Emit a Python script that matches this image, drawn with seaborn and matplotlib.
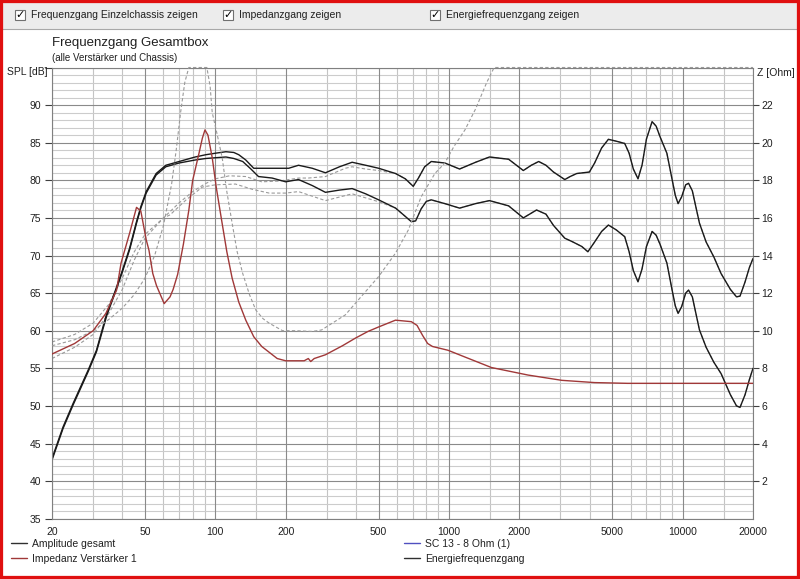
import numpy as np
import matplotlib
matplotlib.use("Agg")
import matplotlib.pyplot as plt
import matplotlib.ticker as mticker
from matplotlib.patches import Rectangle
from matplotlib.lines import Line2D
import seaborn as sns

# --- data ------------------------------------------------------------------
# total response (upper black curve), SPL in dB
amp_f = [20, 22.3, 24.6, 28.6, 31, 34.3, 37, 40, 43, 46, 48, 50.6, 55.8, 61.4, 70, 82, 91,
         100, 111, 120, 126, 135, 146, 175, 206, 227, 260, 296, 340, 385, 440, 500, 591,
         650, 703, 740, 787, 840, 960, 1110, 1300, 1490, 1800, 2080, 2250, 2420, 2600, 2800,
         3130, 3300, 3520, 3990, 4200, 4500, 4810, 5200, 5650, 5900, 6150, 6440, 6700, 7000,
         7400, 7700, 8000, 8560, 9000, 9300, 9560, 9900, 10300, 10600, 11000, 11800, 12600,
         13600, 14600, 16000, 17000, 17600, 18500, 19300, 20000]
amp_db = [43.0, 47.2, 50.3, 54.8, 57.4, 62.3, 65.0, 68.0, 71.0, 74.5, 76.5, 78.5, 80.9, 82.0,
          82.5, 83.1, 83.4, 83.6, 83.8, 83.7, 83.4, 82.7, 81.6, 81.6, 81.6, 82.0, 81.6, 81.0,
          81.8, 82.4, 82.0, 81.6, 80.9, 80.2, 79.2, 80.3, 81.8, 82.5, 82.3, 81.5, 82.4, 83.1,
          82.8, 81.3, 82.0, 82.5, 82.0, 81.1, 80.1, 80.5, 80.9, 81.1, 82.3, 84.3, 85.45, 85.2,
          84.9, 83.6, 81.5, 80.2, 82.0, 85.5, 87.8, 87.2, 85.8, 83.6, 80.2, 78.0, 76.9, 77.8,
          79.4, 79.6, 78.6, 74.3, 71.8, 69.8, 67.6, 65.5, 64.5, 64.6, 66.5, 68.4, 69.6]

# energy response (lower black curve), SPL in dB
energy_f = [20, 22.3, 24.6, 28.6, 31, 34.3, 37, 40, 43, 46, 48, 50.6, 55.8, 61.4, 70, 82, 91,
            100, 111, 120, 131, 142, 153, 175, 200, 227, 260, 296, 340, 385, 440, 500, 591,
            650, 690, 720, 760, 800, 840, 960, 1110, 1300, 1490, 1800, 2080, 2370, 2600, 2800,
            3130, 3390, 3700, 3930, 4200, 4500, 4810, 5200, 5650, 5900, 6150, 6440, 6700,
            7000, 7400, 7700, 8000, 8560, 9000, 9300, 9560, 9900, 10300, 10600, 11000, 11800,
            12600, 13600, 14600, 16000, 17000, 17600, 18500, 19300, 20000]
energy_db = [42.8, 47.0, 50.1, 54.6, 57.2, 62.0, 64.8, 67.8, 70.8, 74.3, 76.3, 78.3, 80.7,
             81.8, 82.3, 82.7, 82.9, 83.0, 83.1, 82.9, 82.5, 81.5, 80.5, 80.3, 79.8, 80.1,
             79.3, 78.4, 78.7, 78.9, 78.2, 77.4, 76.3, 75.2, 74.5, 74.6, 76.2, 77.2, 77.4,
             76.9, 76.3, 76.9, 77.3, 76.6, 75.0, 76.05, 75.5, 74.0, 72.3, 71.8, 71.2, 70.5,
             71.8, 73.2, 74.05, 73.4, 72.5, 70.5, 68.0, 66.5, 68.2, 71.2, 73.2, 72.7, 71.5,
             69.0, 65.5, 63.3, 62.3, 63.2, 65.0, 65.4, 64.5, 60.1, 57.8, 55.8, 54.3, 51.5,
             50.0, 49.8, 51.5, 53.5, 55.0]

# single chassis responses (grey dashed), below 600 Hz they differ from the totals
chassis_up_f = [20, 25, 30, 35, 40, 45, 50, 60, 70, 80, 90, 100, 115, 135, 158, 188, 227,
                250, 296, 360, 385, 440, 500, 591]
chassis_up_db = [58.5, 59.5, 61.0, 63.5, 67.0, 70.5, 72.8, 75.0, 77.0, 78.5, 79.5, 80.2,
                 80.6, 80.5, 79.8, 79.9, 80.3, 80.3, 80.5, 81.6, 81.8, 81.5, 81.3, 80.9]
chassis_lo_f = [20, 25, 30, 35, 40, 45, 50, 60, 64, 75, 88, 100, 122, 144, 170, 200, 227,
                296, 385, 500, 591]
chassis_lo_db = [56.3, 57.8, 59.5, 62.3, 65.5, 69.4, 72.3, 75.0, 75.4, 77.4, 79.1, 79.4,
                 79.5, 78.8, 78.3, 78.3, 78.5, 77.3, 78.2, 77.15, 76.3]

# amplifier impedance (red), Ohm
imp_amp_f = [20, 25, 30, 34, 37.8, 39.5, 43, 46, 48, 50.6, 52, 54, 56, 60.4, 64, 66, 69, 73,
             77, 80, 85, 88, 90.3, 93, 97, 101, 106, 112, 118, 126, 135, 146, 158, 184, 200,
             240, 250, 256, 265, 296, 350, 397, 450, 500, 590, 690, 730, 770, 810, 850, 990,
             1170, 1520, 2180, 3040, 4200, 5800, 10000, 20000]
imp_amp_ohm = [8.76, 9.32, 10.0, 10.92, 12.16, 13.6, 15.2, 16.56, 16.36, 14.84, 14.28, 13.04,
               12.4, 11.44, 11.8, 12.2, 13.0, 14.6, 16.4, 18.0, 19.4, 20.24, 20.68, 20.4, 19.2,
               17.6, 16.0, 14.2, 12.8, 11.52, 10.56, 9.68, 9.16, 8.52, 8.4, 8.4, 8.52, 8.36,
               8.52, 8.72, 9.2, 9.6, 9.96, 10.2, 10.56, 10.48, 10.28, 9.76, 9.32, 9.16, 8.96,
               8.6, 8.04, 7.64, 7.36, 7.24, 7.2, 7.2, 7.2]

# chassis impedance (grey dashed), Ohm, held at the top edge where it leaves the chart
imp_ch_f = [20, 25, 30, 35, 40, 45, 50, 55, 60, 65, 68, 71, 74, 77, 92, 95, 97, 102, 107,
            112, 118, 124, 131, 140, 149, 160, 170, 194, 220, 260, 285, 360, 420, 500, 590,
            670, 760, 870, 960, 1050, 1170, 1300, 1450, 1560, 20000]
imp_ch_ohm = [9.2, 9.52, 10.0, 10.6, 11.2, 11.92, 12.8, 14.0, 15.6, 17.8, 19.6, 21.6, 23.2,
              24.0, 24.0, 23.0, 21.6, 20.4, 19.2, 17.4, 15.72, 14.2, 13.04, 11.92, 11.1,
              10.64, 10.4, 10.0, 10.0, 9.96, 10.04, 10.84, 11.8, 12.88, 14.12, 15.36, 17.12,
              18.36, 18.92, 19.8, 20.68, 21.8, 23.2, 24.0, 24.0]

x_major = [20, 50, 100, 200, 500, 1000, 2000, 5000, 10000, 20000]
x_minor = [30, 40, 60, 70, 80, 90, 150, 300, 400, 600, 700, 800, 900, 1500, 3000, 4000,
           6000, 7000, 8000, 9000, 15000]
spl_ticks = [35, 40, 45, 50, 55, 60, 65, 70, 75, 80, 85, 90, 95]
ohm_ticks = [2, 4, 6, 8, 10, 12, 14, 16, 18, 20, 22]

# --- style ------------------------------------------------------------------
sns.set_theme(style="white")
plt.rcParams['font.family'] = ['Liberation Sans Narrow', 'Liberation Sans', 'DejaVu Sans']
plt.rcParams['font.size'] = 7.5
TXT = "#202020"
FS = 7.5

W, H = 800, 579


def px(x, y):
    return x / W, 1 - y / H


fig = plt.figure(figsize=(8, 5.79), dpi=100)
fig.patch.set_facecolor("white")

# checkbox strip
fig.patches.append(Rectangle((0, 1 - 29 / H), 1, 29 / H, transform=fig.transFigure,
                             facecolor="#ececec", edgecolor="none", zorder=0))
fig.add_artist(Line2D([0, 1], [1 - 29 / H] * 2, transform=fig.transFigure,
                      color="#a8a8a8", lw=0.8))
for bx, label in [(15, "Frequenzgang Einzelchassis zeigen"), (223, "Impedanzgang zeigen"),
                  (430, "Energiefrequenzgang zeigen")]:
    x0, y0 = px(bx, 20)
    fig.patches.append(Rectangle((x0, y0), 10 / W, 10 / H, transform=fig.transFigure,
                                 facecolor="white", edgecolor="#707070", lw=0.8))
    fig.text(*px(bx + 5, 15), "\u2713", ha="center", va="center", fontsize=8,
             fontweight="bold", color="black", family="DejaVu Sans")
    fig.text(*px(bx + 16, 15), label, ha="left", va="center", fontsize=FS, color=TXT)

# red window border
fig.patches.append(Rectangle((0, 0), 1, 1, transform=fig.transFigure, fill=False,
                             edgecolor="#e01010", lw=4.5, zorder=10))

# titles
fig.text(*px(52, 43), "Frequenzgang Gesamtbox", ha="left", va="center", fontsize=9.5, color=TXT)
fig.text(*px(52, 58), "(alle Verst\u00e4rker und Chassis)", ha="left", va="center",
         fontsize=7, color=TXT)
fig.text(*px(48, 72), "SPL [dB]", ha="right", va="center", fontsize=FS, color=TXT)
fig.text(*px(757, 73), "Z [Ohm]", ha="left", va="center", fontsize=FS, color=TXT)

# --- axes -------------------------------------------------------------------
ax = fig.add_axes([52 / W, 1 - 518.7 / H, (753 - 52) / W, (518.7 - 67.5) / H])
ax.set_facecolor("white")
ax.set_xscale("log")
ax.set_xlim(20, 20000)
ax.set_ylim(35, 95)

# grid
for f in x_minor:
    ax.axvline(f, color="#c4c4c4", lw=0.8, zorder=0)
for f in x_major:
    ax.axvline(f, color="#8a8a8a", lw=0.8, zorder=0.1)
for v in range(35, 96):
    if v % 5:
        ax.axhline(v, color="#cccccc", lw=0.8, zorder=0)
    else:
        ax.axhline(v, color="#8a8a8a", lw=0.8, zorder=0.1)

ax.xaxis.set_major_locator(mticker.FixedLocator(x_major))
ax.xaxis.set_minor_locator(mticker.NullLocator())
ax.xaxis.set_major_formatter(mticker.FixedFormatter([str(v) for v in x_major]))
ax.yaxis.set_major_locator(mticker.FixedLocator(spl_ticks))
ax.yaxis.set_major_formatter(mticker.FixedFormatter([str(v) for v in spl_ticks[:-1]] + [""]))
ax.tick_params(axis="x", length=0, pad=6, labelsize=FS, labelcolor=TXT)
ax.tick_params(axis="y", left=True, length=5, width=0.8, color="#404040", pad=3,
               labelsize=FS, labelcolor=TXT)
for s in ax.spines.values():
    s.set_color("#808080")
    s.set_linewidth(0.8)

dash_grey = "#9a9a9a"

up_f = chassis_up_f + [f for f in amp_f if f > 600]
up_v = chassis_up_db + [v for f, v in zip(amp_f, amp_db) if f > 600]
lo_f = chassis_lo_f + [f for f in energy_f if f > 600]
lo_v = chassis_lo_db + [v for f, v in zip(energy_f, energy_db) if f > 600]
for xf, yv in [(up_f, up_v), (lo_f, lo_v)]:
    sns.lineplot(x=xf, y=yv, ax=ax, color=dash_grey, linewidth=0.8, estimator=None,
                 sort=False, legend=False)
    ax.lines[-1].set_dashes((3, 2))

sns.lineplot(x=amp_f, y=amp_db, ax=ax, color="#1a1a1a", linewidth=1.0, estimator=None,
             sort=False, legend=False)
sns.lineplot(x=energy_f, y=energy_db, ax=ax, color="#1a1a1a", linewidth=1.0, estimator=None,
             sort=False, legend=False)
ax.set_xlabel("")
ax.set_ylabel("")

ax2 = ax.twinx()
ax2.set_ylim(0, 24)
ax2.yaxis.set_major_locator(mticker.FixedLocator(ohm_ticks))
ax2.tick_params(axis="y", right=True, length=4, width=0.8, color="#404040", pad=2,
                labelsize=FS, labelcolor=TXT)
for s in ax2.spines.values():
    s.set_visible(False)

sns.lineplot(x=imp_ch_f, y=imp_ch_ohm, ax=ax2, color=dash_grey, linewidth=0.8,
             estimator=None, sort=False, legend=False)
ax2.lines[-1].set_dashes((3, 2))
ax2.lines[-1].set_clip_on(False)
sns.lineplot(x=imp_amp_f, y=imp_amp_ohm, ax=ax2, color="#a03838", linewidth=1.0,
             estimator=None, sort=False, legend=False)
ax2.set_ylabel("")
ax2.set_xlim(20, 20000)

# --- legend -----------------------------------------------------------------
def handle(c):
    return Line2D([], [], color=c, lw=1.0)


leg_kw = dict(frameon=False, fontsize=FS, handlelength=1.5, handletextpad=0.5,
              labelspacing=0.45, borderpad=0, borderaxespad=0, labelcolor=TXT)
l1 = fig.legend([handle("#303030"), handle("#a03838")],
                ["Amplitude gesamt", "Impedanz Verst\u00e4rker 1"],
                loc="upper left", bbox_to_anchor=px(11, 539), **leg_kw)
l2 = fig.legend([handle("#5050c0"), handle("#303030")],
                ["SC 13 - 8 Ohm (1)", "Energiefrequenzgang"],
                loc="upper left", bbox_to_anchor=px(404, 539), **leg_kw)

fig.savefig("out.png", dpi=100)
